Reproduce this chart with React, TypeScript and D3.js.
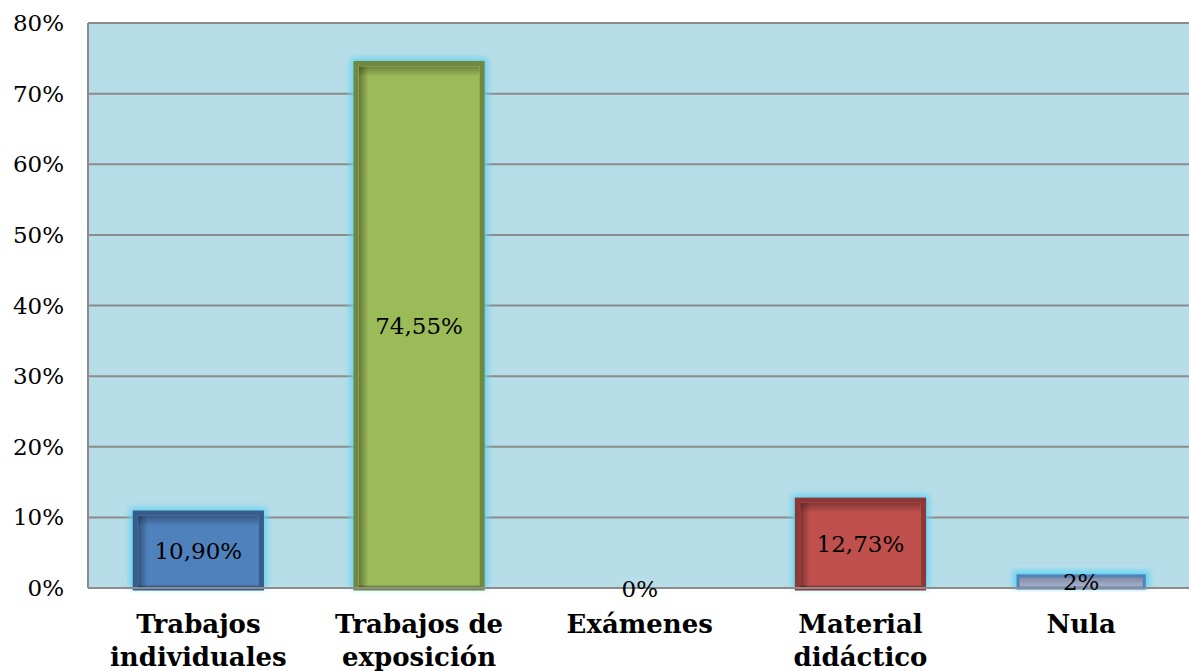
import React from "react";
import * as d3 from "d3";

const categories: string[][] = [
  ["Trabajos", "individuales"],
  ["Trabajos de", "exposición"],
  ["Exámenes"],
  ["Material", "didáctico"],
  ["Nula"],
];
const values: number[] = [10.9, 74.55, 0, 12.73, 2];
const valueLabels: string[] = ["10,90%", "74,55%", "0%", "12,73%", "2%"];
const ticks: number[] = [0, 10, 20, 30, 40, 50, 60, 70, 80];
const fills: string[] = ["#4F81BD", "#9BBB59", "#4BACC6", "#C0504D", "#A3ADCC"];
const strokes: string[] = ["#385D8A", "#71893F", "#357D91", "#8C3836", "#4F81BD"];

const W = 1189;
const H = 671;
const left = 88;
const right = 1191.5;
const top = 23;
const bottom = 588;

export default function App() {
  const x = d3
    .scaleBand<number>()
    .domain(values.map((_, i) => i))
    .range([left, right])
    .paddingInner(0.41)
    .paddingOuter(0.205);
  const y = d3.scaleLinear().domain([0, 80]).range([bottom, top]);
  const font = "'DejaVu Serif', Georgia, serif";

  return (
    <svg
      width={W}
      height={H}
      style={{ position: "absolute", left: 0, top: 0, display: "block" }}
    >
      <defs>
        <filter id="glow" x="-20%" y="-20%" width="140%" height="140%">
          <feGaussianBlur stdDeviation="3" />
        </filter>
        <linearGradient id="inner" x1="0" y1="0" x2="1" y2="0">
          <stop offset="0" stopColor="#000" stopOpacity="0.35" />
          <stop offset="0.08" stopColor="#000" stopOpacity="0" />
          <stop offset="1" stopColor="#000" stopOpacity="0" />
        </linearGradient>
        <linearGradient id="innerTop" x1="0" y1="0" x2="0" y2="1">
          <stop offset="0" stopColor="#000" stopOpacity="0.3" />
          <stop offset="1" stopColor="#000" stopOpacity="0" />
        </linearGradient>
        <linearGradient id="nulaGrad" x1="0" y1="0" x2="0" y2="1">
          <stop offset="0" stopColor="#7F8496" />
          <stop offset="1" stopColor="#A9B6DA" />
        </linearGradient>
      </defs>
      <rect x={left} y={top} width={right - left} height={bottom - top} fill="#B7DDE8" />
      {ticks.map((t) => (
        <line
          key={t}
          x1={left}
          x2={W}
          y1={y(t)}
          y2={y(t)}
          stroke="#8C8C8C"
          strokeWidth={2}
        />
      ))}
      <line x1={left} x2={left} y1={top} y2={bottom} stroke="#8C8C8C" strokeWidth={2} />
      {ticks.map((t) => (
        <text
          key={"t" + t}
          x={64}
          y={y(t)}
          dy="0.35em"
          textAnchor="end"
          fontFamily={font}
          fontSize={23}
          fill="#000"
        >
          {t + "%"}
        </text>
      ))}
      {values.map((v, i) => {
        if (v <= 0) return null;
        const bx = x(i)!;
        const bw = x.bandwidth();
        const by = y(v);
        const bh = bottom - by;
        return (
          <g key={"b" + i}>
            <rect
              x={bx - 3}
              y={by - 3}
              width={bw + 6}
              height={bh + 3}
              fill="#5FD3F3"
              filter="url(#glow)"
            />
            <rect
              x={bx + 2}
              y={by + 2}
              width={bw - 4}
              height={bh - 2}
              fill={i === 4 ? "url(#nulaGrad)" : fills[i]}
              stroke={strokes[i]}
              strokeWidth={i === 4 ? 3 : 5}
            />
            {i !== 4 && (
              <>
                <rect x={bx + 5} y={by + 5} width={bw - 10} height={bh - 5} fill="url(#inner)" />
                <rect x={bx + 5} y={by + 5} width={bw - 10} height={Math.min(10, bh - 5)} fill="url(#innerTop)" />
              </>
            )}
          </g>
        );
      })}
      <line x1={left} x2={W} y1={bottom} y2={bottom} stroke="#8C8C8C" strokeWidth={2} />
      {values.map((v, i) => (
        <text
          key={"v" + i}
          x={x(i)! + x.bandwidth() / 2}
          y={(y(v) + bottom) / 2 + 1}
          dy="0.35em"
          textAnchor="middle"
          fontFamily={font}
          fontSize={23}
          fill="#000"
        >
          {valueLabels[i]}
        </text>
      ))}
      {categories.map((lines, i) => (
        <text
          key={"c" + i}
          x={x(i)! + x.bandwidth() / 2}
          textAnchor="middle"
          fontFamily={font}
          fontWeight="bold"
          fontSize={26}
          fill="#000"
        >
          {lines.map((l, j) => (
            <tspan key={j} x={x(i)! + x.bandwidth() / 2} y={633 + j * 33}>
              {l}
            </tspan>
          ))}
        </text>
      ))}
    </svg>
  );
}
